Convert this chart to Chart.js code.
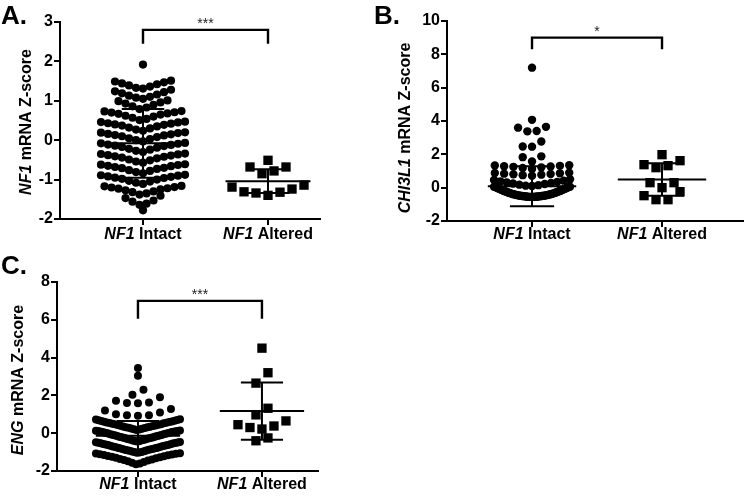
<!DOCTYPE html>
<html lang="en">
<head>
<meta charset="UTF-8">
<title>NF1 Intact vs NF1 Altered mRNA Z-scores</title>
<style>
  body { margin: 0; background: #fff; }
  #wrap { position: relative; width: 750px; height: 497px; background: #fff; }
  canvas { position: absolute; }
</style>
</head>
<body>
<div id="wrap">
  <canvas id="chartA" width="330" height="250" style="left:0;top:0"></canvas>
  <canvas id="chartB" width="385" height="250" style="left:365px;top:0"></canvas>
  <canvas id="chartC" width="330" height="247" style="left:0;top:250px"></canvas>
</div>

<script src="https://cdn.jsdelivr.net/npm/chart.js"></script>
<script>
// groups on the x axis
const geneName = 'NF1';
const groupNames = ['Intact', 'Altered'];

// panel A : NF1 mRNA Z-score
const intactA = [
  1.92,
  1.31, 1.33, 1.36, 1.39, 1.42, 1.44, 1.47, 1.49, 1.51,
  1.05, 1.08, 1.1, 1.13, 1.16, 1.19, 1.22, 1.24, 1.28,
  0.79, 0.83, 0.86, 0.9, 0.93, 0.96, 0.99, 1.01,
  0.74, 0.73, 0.71, 0.7, 0.68, 0.67, 0.65, 0.62, 0.6, 0.57, 0.54, 0.51,
  0.47, 0.46, 0.45, 0.43, 0.42, 0.4, 0.39, 0.37, 0.35, 0.32, 0.3, 0.27, 0.24,
  0.2, 0.19, 0.18, 0.16, 0.15, 0.13, 0.12, 0.1, 0.08, 0.05, 0.03, 0.0, -0.03,
  -0.07, -0.08, -0.09, -0.11, -0.12, -0.14, -0.15, -0.17, -0.19, -0.22, -0.24, -0.27, -0.3,
  -0.34, -0.35, -0.36, -0.38, -0.39, -0.41, -0.42, -0.44, -0.46, -0.49, -0.51, -0.54, -0.57,
  -0.61, -0.62, -0.63, -0.65, -0.66, -0.68, -0.7, -0.71, -0.73, -0.76, -0.78, -0.81, -0.84,
  -0.88, -0.89, -0.9, -0.92, -0.93, -0.95, -0.96, -0.98, -1.0, -1.03, -1.05, -1.08, -1.11,
  -1.16, -1.17, -1.19, -1.2, -1.22, -1.23, -1.25, -1.27, -1.3, -1.32, -1.35, -1.38,
  -1.41, -1.47, -1.53, -1.56, -1.61, -1.64,
  -1.78
];
const alteredA = [-0.51, -0.68, -0.78, -0.68, -0.85, -1.14, -1.24, -1.32, -1.4, -1.34, -1.31, -1.19];
const meanA = [-0.08, -1.04];
const sdA = [0.87, 0.3];

// panel B : CHI3L1 mRNA Z-score
const intactB = [
  7.2, 4.07, 3.38, 3.4, 3.6, 3.65, 2.46, 2.47, 2.77, 1.57, 1.83, 1.88,
  1.12, 1.18, 1.22, 1.25, 1.27, 1.29, 1.31, 1.33, 1.35,
  0.72, 0.75, 0.78, 0.8, 0.82, 0.84, 0.86, 0.88, 0.9,
  0.1, 0.12, 0.15, 0.18, 0.22, 0.25, 0.28, 0.32, 0.35, 0.38, 0.42, 0.46, 0.5,
  -0.55, -0.55, -0.55, -0.55, -0.55, -0.54, -0.54, -0.54, -0.53, -0.53,
  -0.52, -0.52, -0.51, -0.51, -0.5, -0.5, -0.49, -0.49, -0.48, -0.48,
  -0.46, -0.46, -0.45, -0.45, -0.43, -0.43, -0.41, -0.41, -0.39, -0.39,
  -0.37, -0.37, -0.34, -0.34, -0.32, -0.32, -0.29, -0.29, -0.26, -0.26,
  -0.23, -0.23, -0.2, -0.2, -0.17, -0.17, -0.14, -0.14, -0.1, -0.1,
  -0.07, -0.07, -0.03, -0.03, 0.01, 0.01, 0.04, 0.04, 0.06, 0.06
];
const alteredB = [1.98, 1.38, 1.2, 1.32, 1.62, 0.3, 0.3, 0.0, -0.48, -0.72, -0.72, -0.24];
const meanB = [0.08, 0.49];
const sdB = [1.2, 0.98];

// panel C : ENG mRNA Z-score
const intactC = [
  3.45, 3.04, 2.3, 2.03, 1.9, 1.72, 1.63, 1.6, 1.58,
  1.28, 1.2, 1.1, 1.0, 0.95, 0.95, 0.92,
  0.17, 0.19, 0.21, 0.23, 0.25, 0.27, 0.29, 0.31, 0.32, 0.34, 0.36, 0.38, 0.4, 0.41, 0.43, 0.45,
  0.47, 0.48, 0.5, 0.52, 0.54, 0.55, 0.57, 0.59, 0.6, 0.62, 0.64, 0.66, 0.68, 0.7, 0.72, 0.74,
  -0.44, -0.42, -0.41, -0.39, -0.38, -0.36, -0.35, -0.33, -0.32, -0.3, -0.29, -0.27, -0.26, -0.24,
  -0.23, -0.21, -0.2, -0.18, -0.17, -0.15, -0.14, -0.12, -0.11, -0.09, -0.08, -0.06, -0.05, -0.03,
  -0.02, 0.0, 0.01, 0.03, 0.04, 0.06, 0.07, 0.08, 0.09, 0.1, 0.11, 0.12, 0.13, 0.14,
  -1.04, -1.02, -1.0, -0.99, -0.97, -0.95, -0.93, -0.92, -0.9, -0.88, -0.87, -0.85,
  -0.83, -0.82, -0.8, -0.78, -0.77, -0.75, -0.73, -0.72, -0.7, -0.68, -0.67, -0.65,
  -0.63, -0.62, -0.6, -0.58, -0.57, -0.55, -0.53, -0.52, -0.5, -0.49, -0.48, -0.46,
  -1.64, -1.6, -1.56, -1.52, -1.49, -1.45, -1.42, -1.39, -1.36, -1.33, -1.3,
  -1.27, -1.25, -1.22, -1.2, -1.17, -1.15, -1.13, -1.11, -1.09, -1.07, -1.06
];
const alteredC = [4.5, 3.2, 2.65, 1.32, 0.97, 0.45, 0.3, 0.22, 0.38, 0.65, -0.4, -0.25];
const meanC = [-0.14, 1.17];
const sdC = [0.78, 1.51];

const FONT = '"Liberation Sans", Arial, sans-serif';

// Prism style column scatter: values are put in rows (bins), every row is sorted
// and laid out from the middle outwards; wide rows get squeezed
function binOf(v, o) {
  if (o.edges) {
    let b = 0;
    o.edges.forEach(function (e, i) { if (v >= e) b = i; });
    return b;
  }
  return Math.floor((v - o.anchor) / o.bin + 1e-9);
}

function swarmOffsets(vals, o) {
  let rows = {};
  vals.forEach(function (v, i) {
    let b = binOf(v, o);
    if (!rows[b]) rows[b] = [];
    rows[b].push(i);
  });
  let dx = vals.map(() => 0);
  Object.keys(rows).forEach(function (key) {
    let idx = rows[key];
    idx.sort((a, b) => vals[a] - vals[b]);
    let n = idx.length;
    let s = o.gap;
    if (n > 1 && (n - 1) * s / 2 > o.maxHalf) s = 2 * o.maxHalf / (n - 1);
    idx.forEach(function (id, j) {
      let k;
      if (n % 2 == 1) {
        k = j == 0 ? 0 : Math.ceil(j / 2) * (j % 2 ? -1 : 1);
      } else {
        k = (Math.floor(j / 2) + 0.5) * (j % 2 ? 1 : -1);
      }
      dx[id] = k * s;
    });
  });
  return dx;
}

function meanSdLine(m, s, c) {
  return [
    {x: c - 0.34, y: m}, {x: c + 0.34, y: m}, {x: c, y: null},
    {x: c, y: m + s}, {x: c, y: m - s}, {x: c, y: null},
    {x: c - 0.17, y: m + s}, {x: c + 0.17, y: m + s}, {x: c, y: null},
    {x: c - 0.17, y: m - s}, {x: c + 0.17, y: m - s}
  ];
}

function drawMixed(ctx, parts, cx, cy) {
  let total = 0;
  parts.forEach(function (p) { ctx.font = p.f; p.w = ctx.measureText(p.t).width; total += p.w; });
  let x = cx - total / 2;
  ctx.textAlign = 'left';
  parts.forEach(function (p) { ctx.font = p.f; ctx.fillText(p.t, x, cy); x += p.w; });
}

const panelText = {
  id: 'panelText',
  afterDraw(chart, args, o) {
    const ctx = chart.ctx;
    const sx = chart.scales.x, sy = chart.scales.y, area = chart.chartArea;
    ctx.save();
    ctx.fillStyle = '#000';

    ctx.font = 'bold 26px ' + FONT;
    ctx.textAlign = 'left';
    ctx.textBaseline = 'alphabetic';
    ctx.fillText(o.letter, o.letterX, o.letterY);

    ctx.textBaseline = 'middle';
    groupNames.forEach(function (g, i) {
      drawMixed(ctx, [
        {t: geneName, f: 'italic bold 16px ' + FONT},
        {t: ' ' + g, f: 'bold 16px ' + FONT}
      ], sx.getPixelForValue(i + 1), area.bottom + o.labelOffset);
    });

    ctx.save();
    ctx.translate(o.titleX, o.titleY);
    ctx.rotate(-Math.PI / 2);
    drawMixed(ctx, [
      {t: o.titleGene, f: 'italic bold 16px ' + FONT},
      {t: ' mRNA Z-score', f: 'bold 16px ' + FONT}
    ], 0, 0);
    ctx.restore();

    ctx.fillStyle = '#222';
    ctx.font = '14px ' + FONT;
    ctx.textAlign = 'center';
    ctx.textBaseline = 'alphabetic';
    ctx.fillText(o.stars, sx.getPixelForValue(1.5), sy.getPixelForValue(o.bracket[1]) - 2);
    ctx.restore();
  }
};

function makePanel(id, p) {
  const axisStyle = {
    grid: {drawOnChartArea: false, color: '#000', lineWidth: 2, tickLength: 6},
    border: {color: '#000', width: 2}
  };
  const chart = new Chart(document.getElementById(id), {
    type: 'scatter',
    data: {
      datasets: [
        {data: meanSdLine(p.mean[0], p.sd[0], 1), showLine: true, borderColor: '#000', borderWidth: 2,
         pointRadius: 0, clip: false, order: 0},
        {data: meanSdLine(p.mean[1], p.sd[1], 2), showLine: true, borderColor: '#000', borderWidth: 2,
         pointRadius: 0, clip: false, order: 0},
        {data: [{x: 1, y: p.bracket[0]}, {x: 1, y: p.bracket[1]}, {x: 2, y: p.bracket[1]}, {x: 2, y: p.bracket[0]}],
         showLine: true, borderColor: '#000', borderWidth: 2.4, pointRadius: 0, clip: false, order: 0},
        {data: [], pointStyle: 'circle', pointRadius: p.dotR, backgroundColor: '#000', borderWidth: 0, order: 1},
        {data: [], pointStyle: 'rect', pointRadius: 6.6, backgroundColor: '#000', borderWidth: 0, order: 1}
      ]
    },
    options: {
      responsive: false,
      animation: false,
      devicePixelRatio: 1,
      events: [],
      layout: {padding: p.pad},
      plugins: {
        legend: {display: false},
        tooltip: {enabled: false},
        panelText: {
          letter: p.letter, letterX: p.letterX, letterY: p.letterY,
          titleGene: p.gene, titleX: p.titleX, titleY: p.titleY,
          stars: p.stars, bracket: p.bracket, labelOffset: p.labelOffset
        }
      },
      scales: {
        x: Object.assign({
          type: 'linear', min: p.xMin, max: p.xMax,
          afterBuildTicks: s => { s.ticks = [{value: 1}, {value: 2}]; },
          afterFit: s => { s.height = p.xH; },
          ticks: {callback: () => ''}
        }, axisStyle),
        y: Object.assign({
          min: p.yMin, max: p.yMax,
          afterFit: s => { s.width = p.yW; },
          ticks: {stepSize: p.step, color: '#000', padding: 1,
                  font: {family: FONT, weight: 'bold', size: 16}}
        }, axisStyle)
      }
    },
    plugins: [panelText]
  });

  // second pass: turn the pixel offsets of the swarm into x values of the scale
  const sx = chart.scales.x;
  const perUnit = sx.getPixelForValue(2) - sx.getPixelForValue(1);
  const dIn = swarmOffsets(p.intact, p.dots);
  const dAlt = swarmOffsets(p.altered, p.squares);
  chart.data.datasets[3].data = p.intact.map((v, i) => ({x: 1 + dIn[i] / perUnit, y: v}));
  chart.data.datasets[4].data = p.altered.map((v, i) => ({x: 2 + dAlt[i] / perUnit, y: v}));
  chart.update('none');
  return chart;
}

makePanel('chartA', {
  intact: intactA, altered: alteredA, mean: meanA, sd: sdA,
  letter: 'A.', letterX: 1, letterY: 24, gene: 'NF1', titleX: 27, titleY: 122,
  stars: '***', bracket: [2.45, 2.8], labelOffset: 16,
  pad: {left: 0, top: 22, right: 10, bottom: 0}, yW: 60, xH: 31,
  xMin: 0.336, xMax: 2.416, yMin: -2, yMax: 3, step: 1, dotR: 4.1,
  dots: {anchor: -1.4, bin: 0.27, gap: 7, maxHalf: 42},
  squares: {anchor: -1.4, bin: 0.27, gap: 12, maxHalf: 40}
});

makePanel('chartB', {
  intact: intactB, altered: alteredB, mean: meanB, sd: sdB,
  letter: 'B.', letterX: 9, letterY: 24, gene: 'CHI3L1', titleX: 41, titleY: 128,
  stars: '*', bracket: [8.3, 9.0], labelOffset: 14,
  pad: {left: 0, top: 21, right: 7, bottom: 0}, yW: 82, xH: 29,
  xMin: 0.346, xMax: 2.623, yMin: -2, yMax: 10, step: 2, dotR: 4.2,
  dots: {edges: [-2, 0.07, 0.6, 1.0, 1.45, 1.9, 2.35, 2.9, 3.3, 3.8, 4.5], gap: 9.3, maxHalf: 38},
  squares: {anchor: 0, bin: 0.85, gap: 12, maxHalf: 40}
});

makePanel('chartC', {
  intact: intactC, altered: alteredC, mean: meanC, sd: sdC,
  letter: 'C.', letterX: 1, letterY: 24, gene: 'ENG', titleX: 19, titleY: 130,
  stars: '***', bracket: [6.05, 7.0], labelOffset: 14,
  pad: {left: 0, top: 32, right: 12, bottom: 0}, yW: 57, xH: 26,
  xMin: 0.347, xMax: 2.452, yMin: -2, yMax: 8, step: 2, dotR: 4,
  dots: {anchor: -1.65, bin: 0.6, gap: 11, maxHalf: 42},
  squares: {anchor: 0.15, bin: 0.77, gap: 12, maxHalf: 40}
});
</script>
</body>
</html>
